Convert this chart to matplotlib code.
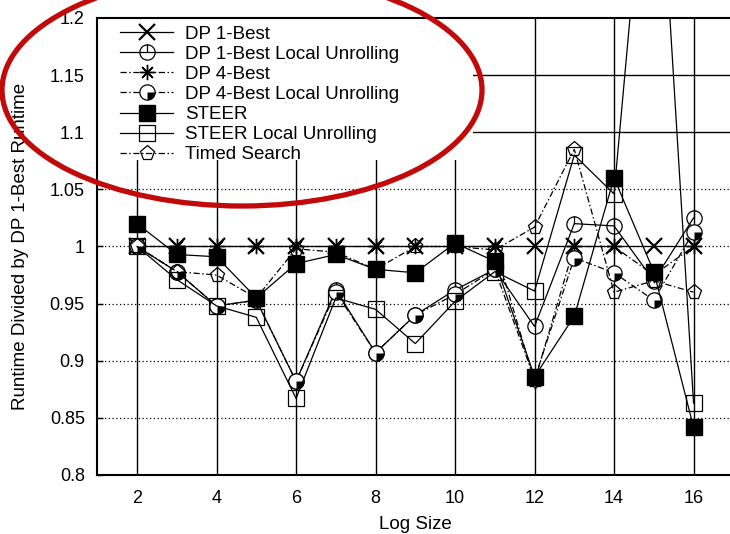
import numpy as np
import matplotlib as mpl
mpl.use('Agg')
import matplotlib.pyplot as plt
from matplotlib.path import Path
from matplotlib.patches import Ellipse, Rectangle

plt.rcParams['font.family'] = ['Liberation Sans', 'DejaVu Sans']

# log size
sizes = [2, 3, 4, 5, 6, 7, 8, 9, 10, 11, 12, 13, 14, 15, 16]

# runtime divided by DP 1-Best runtime
dp1 = [1.0, 1.0, 1.0, 1.0, 1.0, 1.0, 1.0, 1.0, 1.0, 1.0, 1.0, 1.0, 1.0, 1.0, 1.0]
dp1_lu = [1.0, 0.978, 0.948, 0.953, 0.882, 0.962, 0.907, 0.94, 0.962, 0.98, 0.93, 1.02, 1.018, 0.97, 1.025]
dp4 = [1.0, 1.0, 1.0, 1.0, 1.0, 1.0, 1.0, 1.0, 1.0, 1.0, 0.882, 1.0, 1.0, 0.975, 1.0]
dp4_lu = [1.0, 0.978, 0.948, 0.953, 0.882, 0.96, 0.907, 0.94, 0.958, 0.98, 0.884, 0.99, 0.977, 0.953, 1.013]
steer = [1.02, 0.993, 0.991, 0.955, 0.985, 0.993, 0.98, 0.977, 1.003, 0.987, 0.886, 0.939, 1.06, 0.978, 0.842]
steer_lu = [1.0, 0.971, 0.948, 0.938, 0.867, 0.955, 0.945, 0.915, 0.952, 0.978, 0.961, 1.08, 1.046, 1.43, 0.863]
timed = [1.0, 0.978, 0.975, 0.955, 0.998, 0.995, 0.98, 1.0, 1.0, 0.997, 1.017, 1.085, 0.96, 0.97, 0.96]

labels = ['DP 1-Best', 'DP 1-Best Local Unrolling', 'DP 4-Best',
          'DP 4-Best Local Unrolling', 'STEER', 'STEER Local Unrolling',
          'Timed Search']

yticks = [0.8, 0.85, 0.9, 0.95, 1.0, 1.05, 1.1, 1.15, 1.2]
ytick_labels = ['0.8', '0.85', '0.9', '0.95', '1', '1.05', '1.1', '1.15', '1.2']
xticks = [2, 4, 6, 8, 10, 12, 14, 16]

# custom markers: circle with a tick on top, quarter filled wedge
circ_tick = Path.make_compound_path(Path.unit_circle(),
                                    Path([[0, 0], [0, 1]], [Path.MOVETO, Path.LINETO]))
quarter = Path.wedge(270, 360)

dashdot = (0, (5, 2, 1.2, 2))
ms = 11
k = 'black'

fig = plt.figure(figsize=(7.3, 5.34), dpi=100)
ax = fig.add_axes([0.1333, 0.1105, 0.8712, 0.8558])

# grid
for x in xticks:
    ax.axvline(x, color=k, lw=1.0, zorder=1)
for y in [0.85, 0.9, 0.95, 1.0, 1.05]:
    ax.axhline(y, color=k, lw=0.9, ls=(0, (1, 2)), zorder=1)
for y in [1.1, 1.15]:
    ax.axhline(y, color=k, lw=1.0, zorder=1)

# white key area hides the grid behind the legend
ax.add_patch(Rectangle((0, 0.689), 0.59, 0.311, transform=ax.transAxes,
                       facecolor='white', edgecolor='none', zorder=2))

h1, = ax.plot(sizes, dp1, color=k, lw=0.9, marker='x', ms=ms, mew=1.6, zorder=3)
h2, = ax.plot(sizes, dp1_lu, color=k, lw=0.9, marker=circ_tick, ms=ms, mew=0.9,
              mfc='none', zorder=3)
h3, = ax.plot(sizes, dp4, color=k, lw=0.9, ls=dashdot, marker=(8, 2, 0), ms=ms,
              mew=1.0, zorder=3)
h4a, = ax.plot(sizes, dp4_lu, color=k, lw=0.9, ls=dashdot, marker='o', ms=ms,
               mew=0.9, mfc='white', zorder=3)
h4b, = ax.plot(sizes, dp4_lu, ls='none', marker=quarter, ms=ms, mew=0, mfc=k,
               zorder=3)
h5, = ax.plot(sizes, steer, color=k, lw=0.9, marker='s', ms=ms, mfc=k, zorder=3)
h6, = ax.plot(sizes, steer_lu, color=k, lw=0.9, marker='s', ms=ms, mew=0.9,
              mfc='none', zorder=3)
h7, = ax.plot(sizes, timed, color=k, lw=0.9, ls=dashdot, marker='p', ms=ms,
              mew=0.9, mfc='none', zorder=3)

ax.set_xlim(1, 17)
ax.set_ylim(0.8, 1.2)
ax.set_xticks(xticks)
ax.set_yticks(yticks)
ax.set_yticklabels(ytick_labels)
ax.tick_params(direction='in', length=4, labelsize=13, pad=9, width=1)
ax.tick_params(axis='x', length=0, pad=11)
for s in ['left', 'bottom', 'top']:
    ax.spines[s].set_linewidth(1.5)
ax.spines['right'].set_visible(False)

ax.set_xlabel('Log Size', fontsize=13.5, labelpad=6)
ax.set_ylabel('Runtime Divided by DP 1-Best Runtime', fontsize=13.5, labelpad=15)

leg = ax.legend([h1, h2, h3, (h4a, h4b), h5, h6, h7], labels,
                loc='upper left', bbox_to_anchor=(0.024, 1.0), fontsize=13.5,
                frameon=False, handlelength=2.83, handletextpad=0.64,
                labelspacing=0.16, borderpad=0.4, borderaxespad=0.0)
leg.set_zorder(5)

# red annotation ellipse drawn over the legend
ell = Ellipse((242 / 730, 1 - 90 / 534), 480 / 730, 232 / 534,
              transform=fig.transFigure, fill=False, edgecolor='#c20a0a',
              lw=3.8, zorder=10, clip_on=False)
fig.add_artist(ell)

plt.savefig('out.png', dpi=100)
